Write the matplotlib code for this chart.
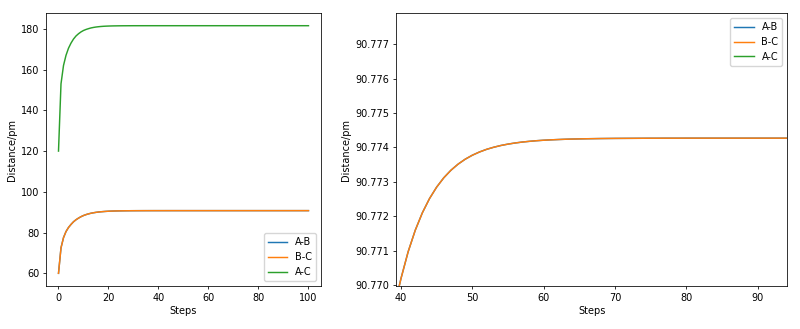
import matplotlib
matplotlib.use('Agg')
import matplotlib.pyplot as plt

steps = list(range(101))

# bond lengths (pm); A-B and B-C lie on top of each other
bond_bc = [
    60.0, 72.5, 77.5, 80.5, 82.5, 84.0, 85.3, 86.3, 87.1, 87.8,
    88.37, 88.82, 89.19, 89.49, 89.73, 89.93, 90.09, 90.22, 90.32, 90.41,
    90.484, 90.539, 90.584, 90.620, 90.649, 90.673, 90.692, 90.708, 90.720, 90.7308,
    90.7390, 90.7457, 90.7511, 90.7555, 90.7591, 90.7620, 90.7643, 90.7662, 90.7681, 90.7693,
    90.770190, 90.770965, 90.771593, 90.772102, 90.772514, 90.772847, 90.773118, 90.773337, 90.773514, 90.773658,
    90.773774, 90.773868, 90.773945, 90.774006, 90.774057, 90.774097, 90.774130, 90.774157, 90.774178, 90.774196,
    90.774210, 90.774221, 90.774230, 90.774238, 90.774244, 90.774249, 90.774253, 90.774256, 90.774259, 90.774261,
    90.774263, 90.774264, 90.774265, 90.774266, 90.774267, 90.774268, 90.774268, 90.774269, 90.774269, 90.774269,
    90.774270, 90.774270, 90.774270, 90.774270, 90.774270, 90.774270, 90.774270, 90.774270, 90.774270, 90.774270,
    90.774270, 90.774270, 90.774270, 90.774270, 90.774270, 90.774270, 90.774270, 90.774270, 90.774270, 90.774270,
    90.774270,
]
bond_ab = list(bond_bc)
bond_ac = [
    120.0, 153.0, 162.0, 167.0, 170.5, 173.0, 175.0, 176.5, 177.6, 178.5,
    179.2, 179.7, 180.1, 180.45, 180.7, 180.9, 181.05, 181.17, 181.26, 181.33,
    181.38, 181.42, 181.45, 181.47, 181.49, 181.505, 181.515, 181.52, 181.53, 181.535,
    181.54, 181.542, 181.543, 181.544, 181.545, 181.546, 181.547, 181.547, 181.548, 181.548,
    181.548, 181.548, 181.548, 181.548, 181.548, 181.548, 181.548, 181.548, 181.548, 181.548,
    181.548, 181.548, 181.548, 181.548, 181.548, 181.548, 181.548, 181.548, 181.548, 181.548,
    181.548, 181.548, 181.548, 181.548, 181.548, 181.548, 181.548, 181.548, 181.548, 181.548,
    181.548, 181.548, 181.548, 181.548, 181.548, 181.548, 181.548, 181.548, 181.548, 181.548,
    181.548, 181.548, 181.548, 181.548, 181.548, 181.548, 181.548, 181.548, 181.548, 181.548,
    181.548, 181.548, 181.548, 181.548, 181.548, 181.548, 181.548, 181.548, 181.548, 181.548,
    181.548,
]

labels = ['A-B', 'B-C', 'A-C']
series = [bond_ab, bond_bc, bond_ac]

plt.rcParams.update({
    'font.size': 7,
    'lines.linewidth': 1.05,
    'axes.linewidth': 0.56,
    'xtick.major.width': 0.56,
    'ytick.major.width': 0.56,
    'xtick.major.size': 2.45,
    'ytick.major.size': 2.45,
    'xtick.major.pad': 2.5,
    'ytick.major.pad': 2.5,
    'axes.labelpad': 2.8,
    'legend.fontsize': 7,
})

fig = plt.figure(figsize=(8, 3.29), dpi=100)
ax1 = fig.add_axes([0.0575, 0.1316, 0.3437, 0.8279])
ax2 = fig.add_axes([0.495, 0.1316, 0.489, 0.8279])

for ax in (ax1, ax2):
    for lab, vals in zip(labels, series):
        ax.plot(steps, vals, label=lab)
    ax.set_xlabel('Steps')
    ax.set_ylabel('Distance/pm')

ax1.legend(loc='lower right')

ax2.set_xlim(39.3, 94.15)
ax2.set_ylim(90.76998, 90.7779)
ax2.ticklabel_format(axis='y', useOffset=False)
ax2.legend(loc='upper right')

fig.savefig('out.png', dpi=100)
